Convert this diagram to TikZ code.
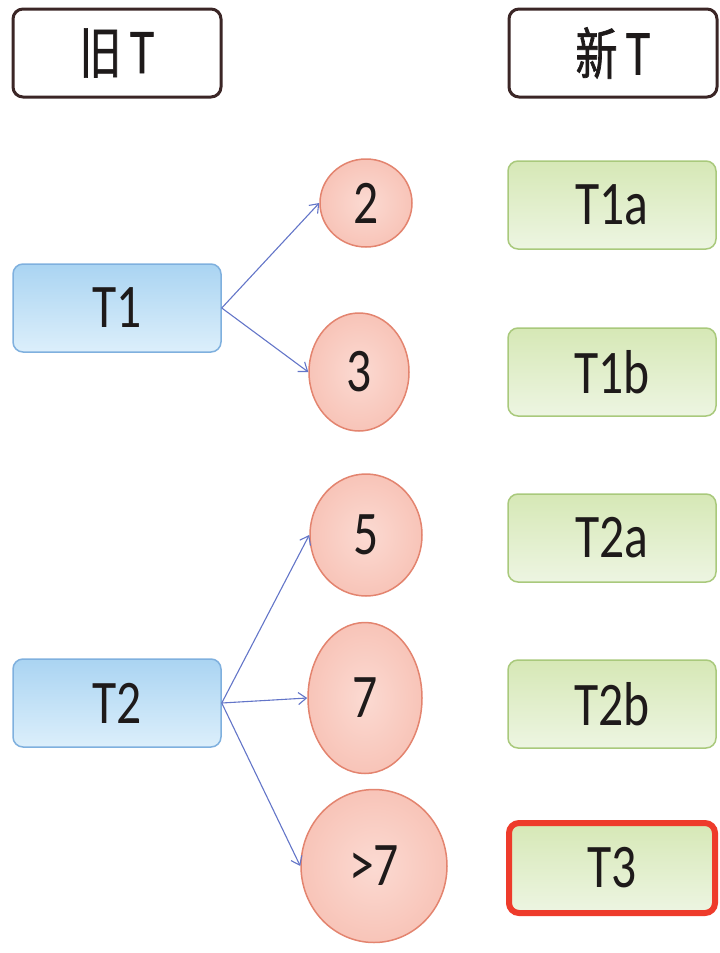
\documentclass[tikz,border=0pt]{standalone}
\usepackage{fontspec}
\usetikzlibrary{shapes.geometric,arrows.meta}
\newfontfamily\labfont[FakeStretch=0.8]{Carlito}
\newfontfamily\cjkfont[FakeStretch=0.75,FakeBold=1.2]{Noto Sans CJK SC}
\definecolor{hdrline}{HTML}{3B2626}
\definecolor{bluetop}{HTML}{AAD4F2}
\definecolor{bluebot}{HTML}{DCEFFB}
\definecolor{blueline}{HTML}{7FB0DE}
\definecolor{pinkin}{HTML}{FBDAD2}
\definecolor{pinkout}{HTML}{F8C4B8}
\definecolor{pinkline}{HTML}{E3846F}
\definecolor{greentop}{HTML}{D6E8B6}
\definecolor{greenbot}{HTML}{EDF5E2}
\definecolor{greenline}{HTML}{A9C97C}
\definecolor{redline}{HTML}{EE3B2B}
\definecolor{arrowblue}{HTML}{6375C8}
\definecolor{ink}{HTML}{1E1A1A}
\tikzset{
  hdrbox/.style={draw=hdrline, line width=3pt, fill=white, rounded corners=10pt,
    minimum width=208pt, minimum height=88pt, inner sep=0pt,
    font=\cjkfont\fontsize{56pt}{60pt}\selectfont, text=ink},
  oldbox/.style={draw=blueline, line width=1.5pt, top color=bluetop, bottom color=bluebot,
    rounded corners=10pt, minimum width=208pt, minimum height=88pt, inner sep=0pt,
    font=\labfont\fontsize{62pt}{66pt}\selectfont, text=ink},
  valnode/.style={ellipse, draw=pinkline, line width=1.5pt, inner color=pinkin, outer color=pinkout,
    inner sep=0pt, font=\labfont\fontsize{62pt}{66pt}\selectfont, text=ink},
  newbox/.style={draw=greenline, line width=1.5pt, top color=greentop, bottom color=greenbot,
    rounded corners=10pt, minimum width=208pt, minimum height=88pt, inner sep=0pt,
    font=\labfont\fontsize{62pt}{66pt}\selectfont, text=ink},
  hotbox/.style={newbox, draw=redline, line width=6pt, minimum width=206pt, minimum height=90pt},
  link/.style={draw=arrowblue, line width=1.1pt, -{Straight Barb[length=8pt,width=12pt]}}
}
\begin{document}
\begin{tikzpicture}[x=1pt,y=-1pt]
\useasboundingbox (0,0) rectangle (720,953);
% headers
\node[hdrbox] (hold) at (117,53) {旧\hspace{8pt}T};
\node[hdrbox] (hnew) at (613,53) {新\hspace{8pt}T};
% old T
\node[oldbox] (t1) at (117,308) {T1};
\node[oldbox] (t2) at (117,703) {T2};
% values
\node[valnode, minimum width=92pt, minimum height=88pt] (v2) at (366,203) {2};
\node[valnode, minimum width=100pt, minimum height=118pt] (v3) at (359,372) {3};
\node[valnode, minimum width=112pt, minimum height=122pt] (v5) at (366,535) {5};
\node[valnode, minimum width=114pt, minimum height=151pt] (v7) at (365,698) {7};
\node[valnode, minimum width=146pt, minimum height=153pt] (v8) at (374,866) {>7};
% new T
\node[newbox] (n1a) at (612,205) {T1a};
\node[newbox] (n1b) at (612,372) {T1b};
\node[newbox] (n2a) at (612,538) {T2a};
\node[newbox] (n2b) at (612,704) {T2b};
\node[hotbox] (n3) at (612,868) {T3};
% connectors
\draw[link] (t1.east) -- (v2.west);
\draw[link] (t1.east) -- (v3.west);
\draw[link] (t2.east) -- (v5.west);
\draw[link] (t2.east) -- (v7.west);
\draw[link] (t2.east) -- (v8.west);
\end{tikzpicture}
\end{document}
